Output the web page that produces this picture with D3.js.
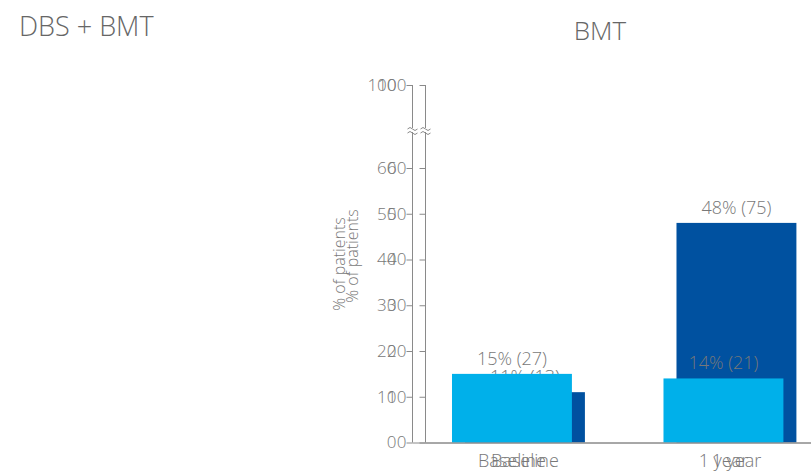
<!DOCTYPE html>
<html>
<head>
<meta charset="utf-8">
<script src="https://cdn.jsdelivr.net/npm/d3@7"></script>
<style>
  html, body { margin: 0; padding: 0; background: #fff; }
  svg { display: block; font-family: "Open Sans", sans-serif; font-weight: 300; }
</style>
</head>
<body>
<script>
// Share of patients reaching the outcome, by treatment arm and time point
const categories = ["Baseline", "1 year"];
const dbsBmtPct = [11, 48];
const dbsBmtN = [13, 75];
const bmtPct = [15, 14];
const bmtN = [27, 21];
const yTicks = [0, 10, 20, 30, 40, 50, 60, 100];

const W = 811, H = 473;
const svg = d3.select("body").append("svg").attr("width", W).attr("height", H);

// Broken y axis: 0–60 linear, then a compressed segment up to 100
const y = d3.scaleLinear().domain([0, 60, 100]).range([442.5, 168, 85]);
const breakTop = 128, breakBottom = 132;

const axisColor = "#8a8a8a";
const textColor = "#787878";

function drawPanel(cfg) {
  const g = svg.append("g");
  const x = d3.scaleBand()
    .domain(categories)
    .range([cfg.axisX + 1, cfg.axisX + 409.4])
    .paddingInner(0.433)
    .paddingOuter(0.182);

  // bars
  g.selectAll("rect.bar")
    .data(categories)
    .join("rect")
    .attr("class", "bar")
    .attr("x", d => x(d))
    .attr("width", x.bandwidth())
    .attr("y", (d, i) => y(cfg.values[i]))
    .attr("height", (d, i) => y(0) - y(cfg.values[i]))
    .attr("fill", cfg.color);

  // value labels
  g.selectAll("text.val")
    .data(categories)
    .join("text")
    .attr("class", "val")
    .attr("x", d => x(d) + x.bandwidth() / 2)
    .attr("y", (d, i) => y(cfg.values[i]) - 9)
    .attr("text-anchor", "middle")
    .attr("font-size", 18)
    .attr("fill", textColor)
    .text((d, i) => `${cfg.values[i]}% (${cfg.counts[i]})`);

  // x axis
  const xAxis = g.append("g")
    .attr("transform", `translate(0,${y(0)})`)
    .call(d3.axisBottom(x).tickSize(0).tickSizeOuter(0).tickPadding(12));
  xAxis.select(".domain")
    .attr("d", `M${cfg.axisX},0.5H${W + 20}`)
    .attr("stroke", axisColor);
  xAxis.selectAll("text")
    .attr("font-size", 18)
    .attr("font-family", "Open Sans, sans-serif")
    .attr("font-weight", 300)
    .attr("fill", textColor);

  // y axis
  const yAxis = g.append("g")
    .attr("transform", `translate(${cfg.axisX},0)`)
    .call(d3.axisLeft(y).tickValues(yTicks).tickSize(6).tickSizeOuter(0).tickPadding(cfg.tickPad));
  yAxis.select(".domain").remove();
  yAxis.selectAll(".tick line").attr("stroke", axisColor);
  yAxis.selectAll("text")
    .attr("font-size", 17)
    .attr("font-family", "Open Sans, sans-serif")
    .attr("font-weight", 300)
    .attr("fill", textColor);

  // axis line in two segments around the break
  yAxis.append("path")
    .attr("d", `M0,${y(100)}V${breakTop}M0,${breakBottom}V${y(0)}`)
    .attr("stroke", axisColor)
    .attr("fill", "none");
  [breakTop, breakBottom].forEach(by => {
    yAxis.append("path")
      .attr("d", `M-5,${by + 1}q2.5,-3 5,0t5,0`)
      .attr("stroke", axisColor)
      .attr("fill", "none");
  });

  // y axis title
  g.append("text")
    .attr("transform", `translate(${cfg.yLabelX},${cfg.yLabelY}) rotate(-90)`)
    .attr("text-anchor", "middle")
    .attr("dy", "0.35em")
    .attr("font-size", 16)
    .attr("fill", textColor)
    .text("% of patients");
}

// DBS + BMT arm
drawPanel({
  values: dbsBmtPct, counts: dbsBmtN, color: "#0051a0",
  axisX: 425.5, tickPad: 13, yLabelX: 352, yLabelY: 256
});
// BMT arm
drawPanel({
  values: bmtPct, counts: bmtN, color: "#00b0ea",
  axisX: 412.5, tickPad: 10, yLabelX: 339, yLabelY: 264
});

// titles
svg.append("text")
  .attr("x", 19).attr("y", 36)
  .attr("font-size", 27)
  .attr("fill", "#666")
  .text("DBS + BMT");
svg.append("text")
  .attr("x", 600).attr("y", 40)
  .attr("text-anchor", "middle")
  .attr("font-size", 26)
  .attr("fill", "#666")
  .text("BMT");
</script>
</body>
</html>
